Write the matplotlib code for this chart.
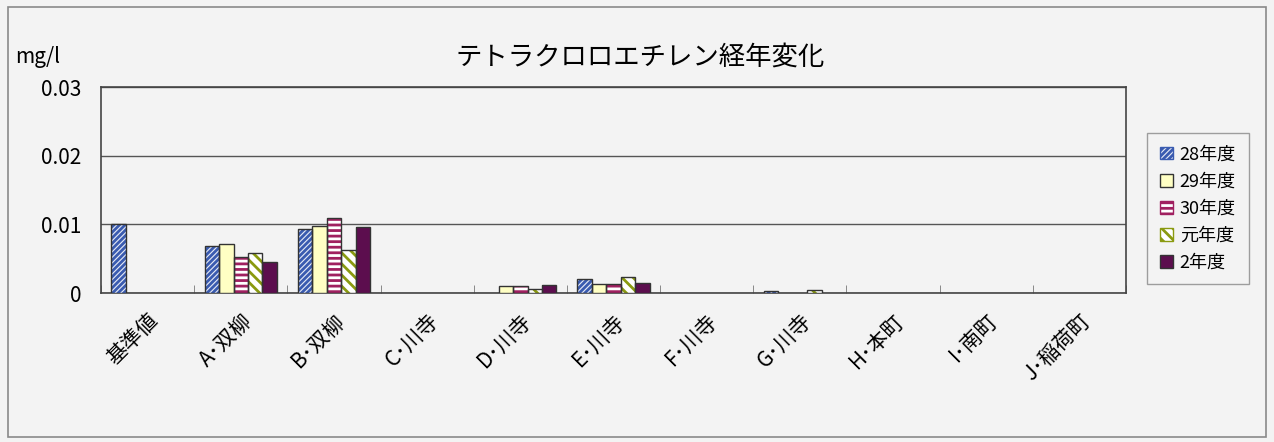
import numpy as np
import matplotlib.pyplot as plt
from matplotlib.patches import Rectangle

plt.rcParams['font.family'] = ['Noto Sans CJK JP', 'DejaVu Sans']
plt.rcParams['hatch.linewidth'] = 2.0

# data
sites = ['基準値', 'A･双柳', 'B･双柳', 'C･川寺', 'D･川寺', 'E･川寺',
         'F･川寺', 'G･川寺', 'H･本町', 'I･南町', 'J･稲荷町']
years = ['28年度', '29年度', '30年度', '元年度', '2年度']
v28 = [0.010, 0.0068, 0.0093, 0, 0, 0.0021, 0, 0.0003, 0, 0, 0]
v29 = [0, 0.0071, 0.0098, 0, 0.0010, 0.0013, 0, 0, 0, 0, 0]
v30 = [0, 0.0052, 0.0109, 0, 0.0010, 0.0013, 0, 0, 0, 0, 0]
vR1 = [0, 0.0058, 0.0062, 0, 0.0006, 0.0023, 0, 0.0004, 0, 0, 0]
vR2 = [0, 0.0045, 0.0096, 0, 0.0011, 0.0014, 0, 0, 0, 0, 0]
series = [v28, v29, v30, vR1, vR2]

# styles: facecolor, hatch colour, hatch
styles = [('#e4e9f5', '#3a5bb0', '//////'),
          ('#ffffc4', None, None),
          ('#ffffff', '#a02060', '---'),
          ('#ffffff', '#8a9a10', '\\\\\\'),
          ('#5c0e4e', None, None)]

bg = '#f3f3f3'
fig = plt.figure(figsize=(12.74, 4.42), dpi=100, facecolor=bg)
ax = fig.add_axes([101/1274, 1-293/442, 1025/1274, 206/442], facecolor=bg)

# chart area border
fig.patches.append(Rectangle((8/1274, 5/442), 1258/1274, 430/442,
                             transform=fig.transFigure, fill=False,
                             edgecolor='#8a8a8a', linewidth=1.2))

x = np.arange(len(sites))
w = 0.155
for i, (vals, (fc, hc, h)) in enumerate(zip(series, styles)):
    vals = np.array(vals)
    pos = x + (i - 2) * w
    # legend handle only
    ax.bar([0], [0], width=0, color=fc, edgecolor=hc or '#333333',
           hatch=h, linewidth=1.0, label=years[i])
    keep = vals > 0
    ax.bar(pos[keep], vals[keep], width=w, color=fc,
           edgecolor=hc or '#333333', hatch=h, linewidth=0, zorder=3)
    ax.bar(pos[keep], vals[keep], width=w, fill=False, edgecolor='#333333',
           linewidth=1.0, zorder=4)

ax.set_xlim(-0.5, len(sites) - 0.5)
ax.set_ylim(0, 0.03)
ax.set_yticks([0, 0.01, 0.02, 0.03])
ax.set_yticklabels(['0', '0.01', '0.02', '0.03'], fontsize=15)
ax.yaxis.grid(True, color='#555555', linewidth=1.0, zorder=0)
ax.set_axisbelow(True)
ax.tick_params(axis='y', length=0, pad=14)

ax.set_xticks(x)
ax.set_xticklabels(sites, rotation=45, ha='right', rotation_mode='anchor',
                   fontsize=15)
ax.tick_params(axis='x', length=0, pad=12)
ax.set_xticks(np.arange(len(sites) + 1) - 0.5, minor=True)
ax.tick_params(axis='x', which='minor', direction='in', length=6,
               color='#777777')
for s in ax.spines.values():
    s.set_color('#444444')
    s.set_linewidth(1.2)

fig.text(15/1274, 1 - 57/442, 'mg/l', fontsize=15, va='center', ha='left')
fig.text(640/1274, 1 - 57/442, 'テトラクロロエチレン経年変化', fontsize=19,
         ha='center', va='center')

leg = ax.legend(loc='center left', bbox_to_anchor=(1.012, 0.41),
                fontsize=13, frameon=True, fancybox=False, handlelength=0.7,
                handleheight=0.7, handletextpad=0.4, labelspacing=0.5,
                borderpad=0.7)
leg.get_frame().set_edgecolor('#888888')
leg.get_frame().set_facecolor(bg)
leg.get_frame().set_linewidth(1.0)

fig.savefig('out.png', dpi=100, facecolor=bg)
